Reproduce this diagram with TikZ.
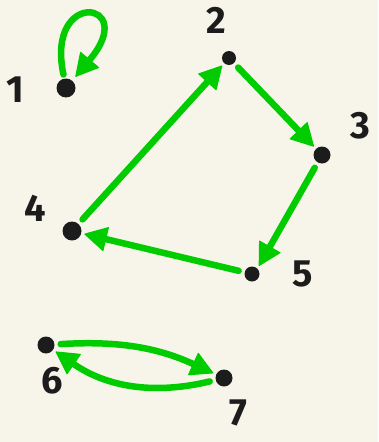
\documentclass[tikz,border=0pt]{standalone}
\usepackage{fontspec}
\setmainfont{Fira Sans}
\usetikzlibrary{arrows.meta}
\definecolor{bgc}{HTML}{F7F5EA}
\definecolor{gr}{HTML}{00CC00}
\definecolor{dk}{HTML}{1C1C1C}
\tikzset{
  dot/.style={circle,fill=dk,inner sep=0pt,minimum size=#1},
  dot/.default=17pt,
  lab/.style={font=\fontsize{38}{38}\selectfont\bfseries,text=dk,inner sep=0pt},
  gedge/.style={draw=gr,line width=6.5pt,line cap=round,
    -{Triangle[length=23pt,width=25pt,line width=1pt,round]},shorten >=3pt,shorten <=6pt}
}
\begin{document}
\begin{tikzpicture}[x=1pt,y=1pt]
\fill[bgc] (0,0) rectangle (378,-442);
\useasboundingbox (0,0) rectangle (378,-442);
% nodes
\node[dot=19pt] (n1) at (66,-88) {};
\node[dot=14pt] (n2) at (229,-58) {};
\node[dot=17pt] (n3) at (322,-155) {};
\node[dot=19pt] (n4) at (72,-231) {};
\node[dot=15pt] (n5) at (252,-274) {};
\node[dot=17pt] (n6) at (46,-345) {};
\node[dot=17pt] (n7) at (224,-378) {};
% labels
\node[lab] (l1) at (15,-90) {1};
\node[lab] (l2) at (216,-20) {2};
\node[lab] (l3) at (360,-126) {3};
\node[lab] (l4) at (35,-208) {4};
\node[lab] (l5) at (303,-274) {5};
\node[lab] (l6) at (52,-381) {6};
\node[lab] (l7) at (238,-413) {7};
% edges
\draw[gedge,shorten <=4pt,shorten >=5pt] (n1.100) .. controls (45,12) and (140,0) .. (n1.50);
\draw[gedge] (n4) -- (n2);
\draw[gedge] (n2) -- (n3);
\draw[gedge] (n3) -- (n5.north east);
\draw[gedge] (n5) -- (n4);
\draw[gedge] (n6) to[bend left=14] (n7);
\draw[gedge] (n7) to[bend left=24] (n6);
\end{tikzpicture}
\end{document}
